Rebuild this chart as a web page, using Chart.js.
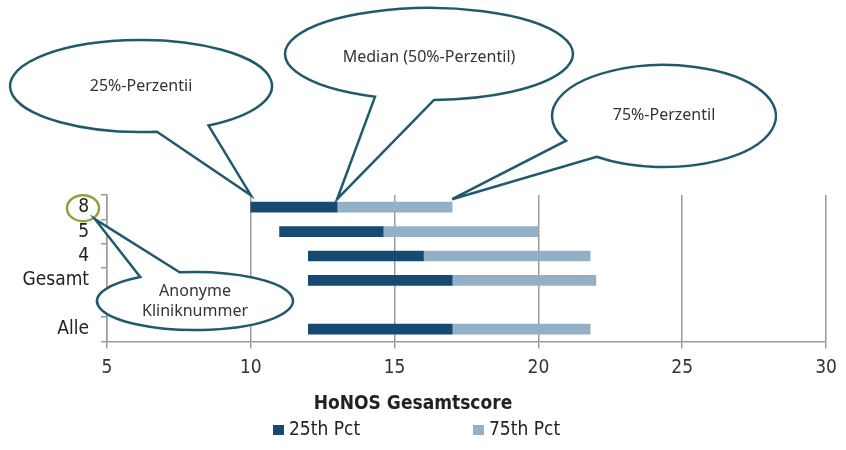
<!DOCTYPE html>
<html>
<head>
<meta charset="utf-8">
<script src="https://cdn.jsdelivr.net/npm/chart.js@4/dist/chart.umd.min.js"></script>
<style>
  html, body { margin: 0; padding: 0; background: #fff; }
</style>
</head>
<body>
<canvas id="honosChart" width="846" height="450"></canvas>
<script>
// ===== DATA =====
const clinics = ['8', '5', '4', 'Gesamt', '', 'Alle'];
const pct25 = [10, 11, 12, 12, null, 12];
const pct50 = [13, 14.6, 16, 17, null, 17];
const pct75 = [17, 20, 21.8, 22, null, 21.8];
const xTicks = [5, 10, 15, 20, 25, 30];
const seriesNames = ['25th Pct', '75th Pct'];
const xTitle = 'HoNOS Gesamtscore';

const COND = "'DejaVu Sans Condensed', 'Liberation Sans Narrow', 'DejaVu Sans', sans-serif";
const BUBBLE_FONT = "16px 'Noto Sans', 'DejaVu Sans', sans-serif";
const DARK = '#174a72';
const LIGHT = '#93b0c6';
const GRID = '#9b9b9b';
const OUTLINE = '#1f5a6d';

// ---- floating bars: [start, end] per row ----
const lowerPart = clinics.map((_, i) => pct25[i] == null ? null : [pct25[i], pct50[i]]);
const upperPart = clinics.map((_, i) => pct50[i] == null ? null : [pct50[i], pct75[i]]);

// ---- speech bubbles (tip anchored to scales) ----
const rad = d => d * Math.PI / 180;
const callouts = [
    { lines: ['25%-Perzentii'], cx: 141, cy: 86, rx: 131, ry: 46, a0: 83, a1: 59, ty: 0,
      tip: (x, y) => [x.getPixelForValue(pct25[0]), y.getPixelForValue(0) - 12] },
    { lines: ['Median (50%-Perzentil)'], cx: 429, cy: 54, rx: 144, ry: 46, a0: 112, a1: 88, ty: 3,
      tip: (x, y) => [x.getPixelForValue(pct50[0]), y.getPixelForValue(0) - 8] },
    { lines: ['75%-Perzentil'], cx: 664, cy: 116, rx: 112, ry: 51, a0: 151, a1: 127, ty: -1,
      tip: (x, y) => [x.getPixelForValue(pct75[0]), y.getPixelForValue(0) - 8] },
    { lines: ['Anonyme', 'Kliniknummer'], cx: 195, cy: 301, rx: 98, ry: 29, a0: 261, a1: 236, ty: 0,
      tip: (x, y) => [95, y.getPixelForValue(0) + 12] },
];

const calloutPlugin = {
    id: 'callouts',
    afterDraw(chart) {
        const ctx = chart.ctx;
        const xs = chart.scales.x;
        const ys = chart.scales.y;
        ctx.save();

        // circle round the clinic label "8"
        ctx.beginPath();
        ctx.ellipse(83, ys.getPixelForValue(0) + 1, 16, 13, 0, 0, Math.PI * 2);
        ctx.strokeStyle = '#8ea23f';
        ctx.lineWidth = 2.5;
        ctx.stroke();

        callouts.forEach(c => {
            const [tx, ty] = c.tip(xs, ys);
            ctx.beginPath();
            ctx.ellipse(c.cx, c.cy, c.rx, c.ry, 0, rad(c.a0), rad(c.a1 + 360));
            ctx.lineTo(tx, ty);
            ctx.closePath();
            ctx.fillStyle = '#fff';
            ctx.fill();
            ctx.strokeStyle = OUTLINE;
            ctx.lineWidth = 2.5;
            ctx.lineJoin = 'miter';
            ctx.stroke();

            ctx.fillStyle = '#333';
            ctx.font = BUBBLE_FONT;
            ctx.textAlign = 'center';
            ctx.textBaseline = 'middle';
            const lh = 20;
            const y0 = c.cy + c.ty - (c.lines.length - 1) * lh / 2;
            c.lines.forEach((t, i) => ctx.fillText(t, c.cx, y0 + i * lh));
        });

        // legend below the axis title
        const mid = chart.width / 2;
        const starts = [mid - 150, mid + 50];
        ctx.font = '19px ' + COND;
        ctx.textAlign = 'left';
        ctx.textBaseline = 'middle';
        chart.data.datasets.forEach((ds, i) => {
            ctx.fillStyle = ds.backgroundColor;
            ctx.fillRect(starts[i], 425, 11, 10);
            ctx.fillStyle = '#222';
            ctx.fillText(ds.label, starts[i] + 16, 430);
        });
        ctx.restore();
    }
};

new Chart(document.getElementById('honosChart'), {
    type: 'bar',
    data: {
        labels: clinics,
        datasets: [
            { label: seriesNames[0], data: lowerPart, backgroundColor: DARK, grouped: false, barThickness: 10, borderWidth: 0 },
            { label: seriesNames[1], data: upperPart, backgroundColor: LIGHT, grouped: false, barThickness: 10, borderWidth: 0 },
        ]
    },
    options: {
        responsive: false,
        animation: false,
        indexAxis: 'y',
        layout: { padding: { top: 195, right: 20, bottom: 35, left: 0 } },
        scales: {
            x: {
                type: 'linear',
                min: xTicks[0], max: xTicks[xTicks.length - 1],
                ticks: { stepSize: xTicks[1] - xTicks[0], color: '#333', font: { family: COND, size: 19 }, padding: 8 },
                grid: { color: GRID, lineWidth: 1.5, tickLength: 7 },
                border: { color: GRID, width: 1.5 }
            },
            y: {
                type: 'category',
                ticks: { color: '#222', font: { family: COND, size: 19 }, padding: 12, autoSkip: false },
                grid: { drawOnChartArea: false, tickLength: 6, color: GRID, lineWidth: 1.5, offset: true },
                border: { color: GRID, width: 1.5 },
                afterFit: s => { s.width = 107; }
            }
        },
        plugins: {
            legend: { display: false },
            tooltip: { enabled: false },
            title: {
                display: true, text: xTitle, position: 'bottom',
                color: '#222', font: { family: COND, size: 19, weight: 'bold' },
                padding: { top: 5, bottom: 0 }
            }
        }
    },
    plugins: [calloutPlugin]
});
</script>
</body>
</html>
